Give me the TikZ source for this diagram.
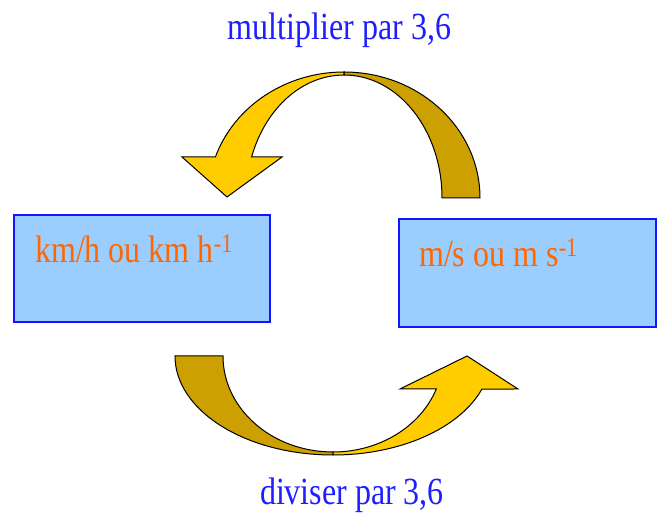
\documentclass[tikz,border=0pt]{standalone}
\usepackage{fontspec}
\setmainfont{Liberation Serif}
\definecolor{arrowbright}{RGB}{255,204,0}
\definecolor{arrowdark}{RGB}{204,160,0}
\definecolor{boxfill}{RGB}{155,205,255}
\definecolor{boxline}{RGB}{20,20,255}
\definecolor{unitorange}{RGB}{255,102,0}
\definecolor{titleblue}{RGB}{30,30,255}
\tikzset{
  arrowfill/.style={fill=#1, draw=black, line width=1pt, line join=miter},
  unitbox/.style={draw=boxline, fill=boxfill, line width=2pt, inner sep=0pt, outer sep=0pt, anchor=south west},
  unittext/.style={text=unitorange, inner sep=0pt, anchor=base west, font=\fontsize{32}{38}\selectfont},
  titletext/.style={text=titleblue, inner sep=0pt, anchor=base, font=\fontsize{32}{38}\selectfont}
}
\begin{document}
\begin{tikzpicture}[x=1pt,y=1pt]
\useasboundingbox (0,0) rectangle (657,519);
% top arrow (multiplier)
\path[arrowfill=arrowdark] (344,447) arc[start angle=90, end angle=0, x radius=136pt, y radius=126pt]
  -- (442,321) arc[start angle=0, end angle=90, x radius=98pt, y radius=123pt] -- cycle;
\path[arrowfill=arrowbright] (344,447) arc[start angle=90, end angle=161, x radius=136pt, y radius=126pt]
  -- (182,362) -- (227,322) -- (282,362) -- (251.6,362)
  arc[start angle=160.5, end angle=90, x radius=98pt, y radius=123pt] -- cycle;
% bottom arrow (diviser)
\path[arrowfill=arrowdark] (175,163) arc[start angle=180, end angle=270, x radius=158pt, y radius=99pt]
  -- (333,67) arc[start angle=270, end angle=180, x radius=110pt, y radius=96pt] -- cycle;
\path[arrowfill=arrowbright] (333,64) arc[start angle=270, end angle=340.5, x radius=158pt, y radius=99pt]
  -- (518,130) -- (467,163) -- (400,130) -- (436.3,130)
  arc[start angle=339.9, end angle=270, x radius=110pt, y radius=96pt] -- cycle;
% boxes
\node[unitbox, minimum width=256pt, minimum height=107pt] (kmh) at (14,197) {};
\node[unitbox, minimum width=257pt, minimum height=108pt] (ms) at (399,192) {};
\node[unittext] (kmhtext) at (35,256) {\scalebox{1}[1.2]{km/h ou km h\textsuperscript{-1}}};
\node[unittext] (mstext) at (419,252) {\scalebox{1}[1.2]{m/s ou m  s\textsuperscript{-1}}};
% titles
\node[titletext] (mult) at (339.5,479) {\scalebox{1}[1.2]{multiplier par 3,6}};
\node[titletext] (div) at (352,14) {\scalebox{1}[1.2]{diviser par 3,6}};
\end{tikzpicture}
\end{document}
